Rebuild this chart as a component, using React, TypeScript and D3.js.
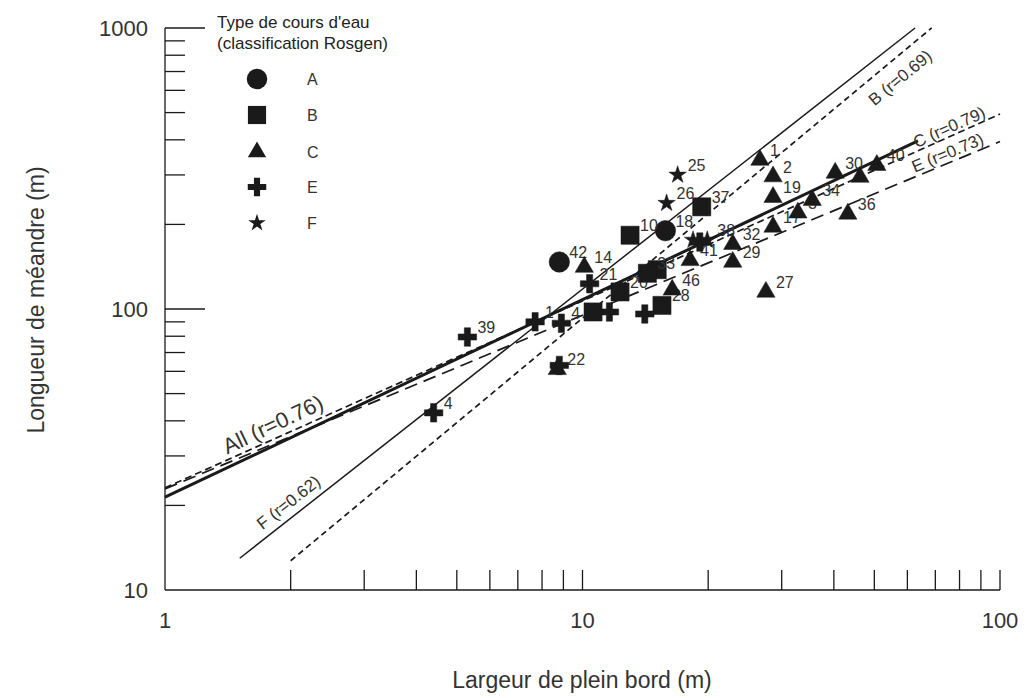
import React, { useEffect, useRef } from 'react';
import * as d3 from 'd3';

const WIDTH = 1034;
const HEIGHT = 698;

// Rosgen stream types shown in the legend
const streamTypes = ['A', 'B', 'C', 'E', 'F'];

// [bankfull width (m), meander length (m), site id]
const pointsA: [number, number, string][] = [
  [8.8, 147, '42'],
  [15.8, 190, '18'],
];
const pointsB: [number, number, string][] = [
  [13.0, 183, '10'],
  [19.3, 231, '37'],
  [15.1, 138, ''],
  [12.3, 115, '20'],
  [10.6, 97.6, ''],
  [15.5, 103, '28'],
  [14.3, 134, '33'],
];
const pointsC: [number, number, string][] = [
  [10.1, 141, '14'],
  [26.6, 339, '1'],
  [28.6, 296, '2'],
  [28.6, 250, '19'],
  [28.6, 196, '17'],
  [22.9, 170, '32'],
  [22.9, 147, '29'],
  [27.5, 115, '27'],
  [32.8, 220, '3'],
  [35.5, 244, '34'],
  [40.3, 305, '30'],
  [46.2, 295, ''],
  [50.7, 325, '40'],
  [43.2, 218, '36'],
  [8.7, 61, '22'],
  [16.4, 117, '46'],
  [18.1, 149, '41'],
];
const pointsE: [number, number, string][] = [
  [5.3, 79.5, '39'],
  [4.4, 42.7, '4'],
  [7.7, 90, '1'],
  [8.9, 89, '4'],
  [11.6, 97.6, ''],
  [14.1, 96, ''],
  [10.4, 123, '21'],
  [19.1, 173, ''],
  [8.8, 63, ''],
];
const pointsF: [number, number, string][] = [
  [16.9, 300, '25'],
  [15.9, 238, '26'],
  [18.4, 176, ''],
  [19.9, 176, '38'],
];

// regression lines  L = a * W^b
const fitNames = ['All (r=0.76)', 'C (r=0.79)', 'E (r=0.73)', 'B (r=0.69)', 'F (r=0.62)'];
const fitA = [21.4, 23.1, 22.9, 5.4, 8.02];
const fitB = [0.703, 0.665, 0.618, 1.235, 1.1666];
const fitXMin = [1, 1, 1, 2.0, 1.51];
const fitXMax = [63.6, 100, 100, 68.6, 62.6];

const xTickLabels = [1, 10, 100];
const yTickLabels = [10, 100, 1000];

const FONT = '"Liberation Sans", Arial, Helvetica, sans-serif';

const symbolFor: Record<string, any> = {
  A: d3.symbolCircle,
  B: d3.symbolSquare,
  C: d3.symbolTriangle,
  E: d3.symbolCross,
  F: d3.symbolStar,
};
const symbolSize: Record<string, number> = { A: 330, B: 330, C: 145, E: 190, F: 95 };

// line look + where each label sits along its line
const fitStyle = [
  { width: 3, dash: null, labelX: 1.45, labelDy: -12, font: 22 },
  { width: 1.7, dash: '7,4', labelX: 63.5, labelDy: -3, font: 17 },
  { width: 1.7, dash: '13,7', labelX: 63.0, labelDy: -4, font: 17 },
  { width: 1.7, dash: '6,4', labelX: 46.0, labelDy: 24, font: 17 },
  { width: 1.5, dash: null, labelX: 1.76, labelDy: -8, font: 17 },
];

const MeanderChart = () => {
  const svgRef = useRef<SVGSVGElement>(null);

  useEffect(() => {
    const svg = d3.select(svgRef.current);
    svg.selectAll('*').remove();

    const x = d3.scaleLog().domain([1, 100]).range([165, 1000]);
    const y = d3.scaleLog().domain([10, 1000]).range([590, 28]);

    svg.append('rect').attr('width', WIDTH).attr('height', HEIGHT).attr('fill', '#fff');

    const ink = '#1a1a1a';

    // axes frame (left + bottom only)
    const axes = svg.append('g').attr('stroke', ink).attr('stroke-width', 1.3);
    axes.append('line').attr('x1', x(1)).attr('x2', x(1)).attr('y1', y(1000)).attr('y2', y(10));
    axes.append('line').attr('x1', x(1)).attr('x2', x(100)).attr('y1', y(10)).attr('y2', y(10));

    // y ticks pointing inward
    const yMinor = [20, 30, 40, 50, 60, 70, 80, 90, 200, 300, 400, 500, 600, 700, 800, 900];
    yMinor.forEach(v => {
      axes.append('line').attr('x1', x(1)).attr('x2', x(1) + 20).attr('y1', y(v)).attr('y2', y(v));
    });
    [100, 1000].forEach(v => {
      axes.append('line').attr('x1', x(1)).attr('x2', x(1) + 40).attr('y1', y(v)).attr('y2', y(v));
    });

    // x ticks pointing up
    const xTicks = [2, 3, 4, 5, 6, 7, 8, 9, 10, 20, 30, 40, 50, 60, 70, 80, 90, 100];
    xTicks.forEach(v => {
      axes.append('line').attr('x1', x(v)).attr('x2', x(v)).attr('y1', y(10)).attr('y2', y(10) - 20);
    });

    // tick labels
    svg.selectAll('.ylab')
      .data(yTickLabels)
      .enter()
      .append('text')
      .attr('x', 148)
      .attr('y', d => y(d))
      .attr('dy', '0.35em')
      .attr('text-anchor', 'end')
      .style('font-family', FONT)
      .style('font-size', '22px')
      .style('fill', '#333')
      .text(d => d);

    svg.selectAll('.xlab')
      .data(xTickLabels)
      .enter()
      .append('text')
      .attr('x', d => x(d))
      .attr('y', 620)
      .attr('dy', '0.35em')
      .attr('text-anchor', 'middle')
      .style('font-family', FONT)
      .style('font-size', '22px')
      .style('fill', '#333')
      .text(d => d);

    // axis titles
    svg.append('text')
      .attr('transform', `translate(36, 300) rotate(-90)`)
      .attr('text-anchor', 'middle')
      .attr('dy', '0.35em')
      .style('font-family', FONT)
      .style('font-size', '23px')
      .style('fill', '#333')
      .text('Longueur de méandre (m)');

    svg.append('text')
      .attr('x', 582)
      .attr('y', 680)
      .attr('text-anchor', 'middle')
      .attr('dy', '0.35em')
      .style('font-family', FONT)
      .style('font-size', '23px')
      .style('fill', '#333')
      .text('Largeur de plein bord (m)');

    // regression lines
    fitNames.forEach((name, i) => {
      const f = (w: number) => fitA[i] * Math.pow(w, fitB[i]);
      const st = fitStyle[i];
      const pts: [number, number][] = [
        [fitXMin[i], f(fitXMin[i])],
        [fitXMax[i], f(fitXMax[i])],
      ];
      const path = d3.line<[number, number]>().x(d => x(d[0])).y(d => y(d[1]));
      svg.append('path')
        .attr('d', path(pts))
        .attr('fill', 'none')
        .attr('stroke', ink)
        .attr('stroke-width', st.width)
        .attr('stroke-dasharray', st.dash);

      // label along the line
      const px = x(st.labelX);
      const py = y(f(st.labelX));
      const p2x = x(st.labelX * 1.5);
      const p2y = y(f(st.labelX * 1.5));
      const angle = (Math.atan2(p2y - py, p2x - px) * 180) / Math.PI;
      svg.append('text')
        .attr('transform', `translate(${px}, ${py}) rotate(${angle})`)
        .attr('y', st.labelDy)
        .style('font-family', FONT)
        .style('font-size', `${st.font}px`)
        .style('fill', '#333')
        .text(name);
    });

    // data points
    const groups: [string, [number, number, string][]][] = [
      ['A', pointsA], ['B', pointsB], ['C', pointsC], ['E', pointsE], ['F', pointsF],
    ];
    const marks = svg.append('g');
    groups.forEach(([type, pts]) => {
      const sym = d3.symbol().type(symbolFor[type]).size(symbolSize[type]);
      pts.forEach(p => {
        const cx = x(p[0]);
        const cy = y(p[1]);
        marks.append('path')
          .attr('d', sym())
          .attr('transform', `translate(${cx}, ${cy})`)
          .attr('fill', ink)
          .attr('stroke', ink)
          .attr('stroke-width', 0.5);
        if (p[2]) {
          marks.append('text')
            .attr('x', cx + 10)
            .attr('y', cy - 4)
            .style('font-family', FONT)
            .style('font-size', '16px')
            .style('fill', '#333')
            .text(p[2]);
        }
      });
    });

    // legend
    const legend = svg.append('g');
    legend.append('text')
      .attr('x', 217).attr('y', 28)
      .style('font-family', FONT).style('font-size', '17px').style('fill', '#222')
      .text("Type de cours d'eau");
    legend.append('text')
      .attr('x', 217).attr('y', 49)
      .style('font-family', FONT).style('font-size', '17px').style('fill', '#222')
      .text('(classification Rosgen)');

    const rowY = [79, 115, 152, 187, 223];
    streamTypes.forEach((t, i) => {
      legend.append('path')
        .attr('d', d3.symbol().type(symbolFor[t]).size(symbolSize[t])())
        .attr('transform', `translate(257, ${rowY[i]})`)
        .attr('fill', ink);
      legend.append('text')
        .attr('x', 307)
        .attr('y', rowY[i])
        .attr('dy', '0.35em')
        .style('font-family', FONT)
        .style('font-size', '16px')
        .style('fill', '#333')
        .text(t);
    });
  }, []);

  return (
    <svg
      ref={svgRef}
      width={WIDTH}
      height={HEIGHT}
      style={{ position: 'absolute', left: 0, top: 0 }}
    />
  );
};

export default function App() {
  return <MeanderChart />;
}
